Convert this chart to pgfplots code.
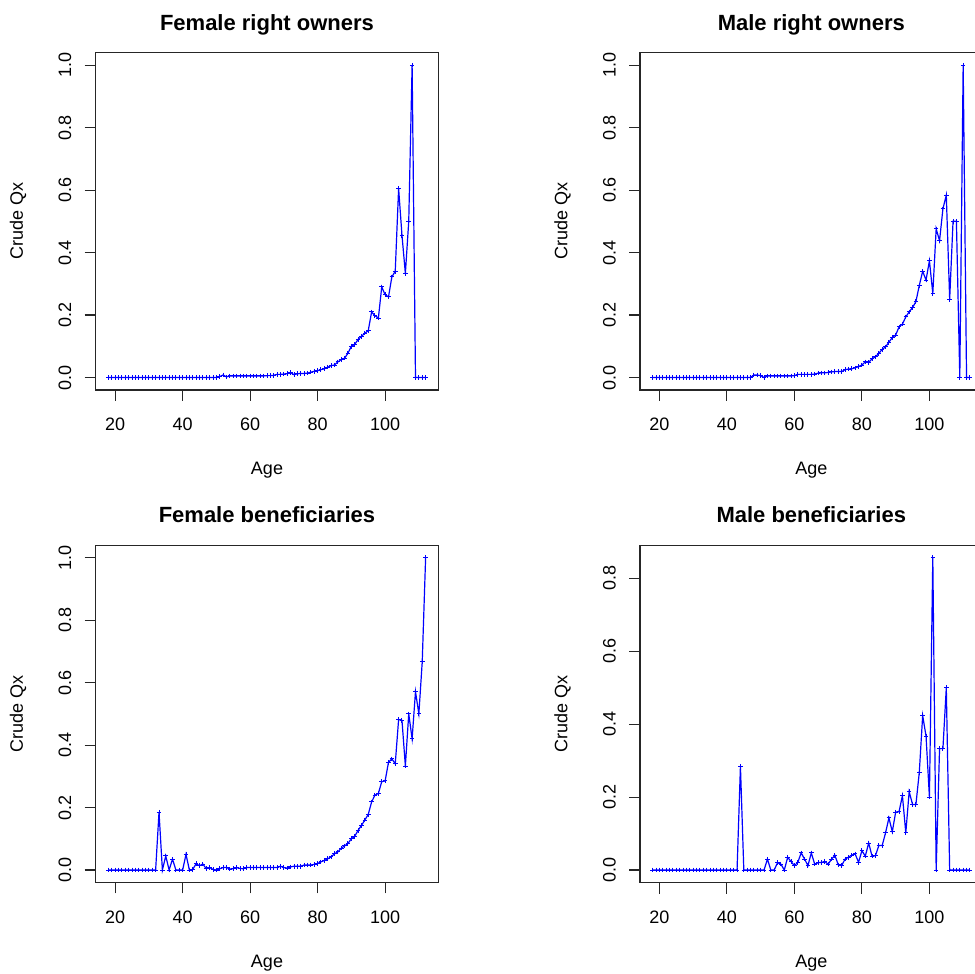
\documentclass[border=0pt]{standalone}
\usepackage{fontspec}
\setmainfont{Liberation Sans}
\usepackage{pgfplots}
\usepackage{pgfplotstable}
\pgfplotsset{compat=1.18}

% Crude death probabilities by age (one value per year of age)
\pgfplotstableread{
age q
18 0
19 0
20 0
21 0
22 0
23 0
24 0
25 0
26 0
27 0
28 0
29 0
30 0
31 0
32 0
33 0
34 0
35 0
36 0
37 0
38 0
39 0
40 0
41 0
42 0
43 0
44 0
45 0
46 0
47 0
48 0
49 0
50 0
51 0.003
52 0.008
53 0.002
54 0.005
55 0.005
56 0.005
57 0.005
58 0.005
59 0.005
60 0.005
61 0.005
62 0.005
63 0.005
64 0.005
65 0.006
66 0.006
67 0.007
68 0.010
69 0.010
70 0.011
71 0.012
72 0.016
73 0.009
74 0.012
75 0.013
76 0.013
77 0.014
78 0.017
79 0.020
80 0.022
81 0.025
82 0.028
83 0.033
84 0.038
85 0.040
86 0.050
87 0.057
88 0.062
89 0.078
90 0.100
91 0.106
92 0.122
93 0.132
94 0.142
95 0.150
96 0.210
97 0.198
98 0.190
99 0.290
100 0.265
101 0.258
102 0.322
103 0.340
104 0.605
105 0.455
106 0.333
107 0.500
108 1.000
109 0
110 0
111 0
112 0
}\femaleowners

\pgfplotstableread{
age q
18 0
19 0
20 0
21 0
22 0
23 0
24 0
25 0
26 0
27 0
28 0
29 0
30 0
31 0
32 0
33 0
34 0
35 0
36 0
37 0
38 0
39 0
40 0
41 0
42 0
43 0
44 0
45 0
46 0
47 0
48 0.008
49 0.008
50 0.006
51 0
52 0.005
53 0.005
54 0.005
55 0.005
56 0.005
57 0.005
58 0.005
59 0.005
60 0.006
61 0.010
62 0.010
63 0.010
64 0.010
65 0.010
66 0.011
67 0.014
68 0.015
69 0.015
70 0.016
71 0.018
72 0.019
73 0.019
74 0.019
75 0.025
76 0.027
77 0.028
78 0.031
79 0.035
80 0.040
81 0.050
82 0.048
83 0.060
84 0.066
85 0.077
86 0.090
87 0.098
88 0.113
89 0.128
90 0.136
91 0.162
92 0.171
93 0.194
94 0.210
95 0.224
96 0.243
97 0.295
98 0.340
99 0.312
100 0.374
101 0.269
102 0.476
103 0.438
104 0.540
105 0.584
106 0.250
107 0.500
108 0.500
109 0
110 1.000
111 0
112 0
}\maleowners

\pgfplotstableread{
age q
18 0
19 0
20 0
21 0
22 0
23 0
24 0
25 0
26 0
27 0
28 0
29 0
30 0
31 0
32 0
33 0.185
34 0
35 0.045
36 0
37 0.035
38 0
39 0
40 0
41 0.050
42 0
43 0.002
44 0.020
45 0.014
46 0.019
47 0.004
48 0.008
49 0.002
50 0
51 0.004
52 0.008
53 0.008
54 0.003
55 0.004
56 0.008
57 0.005
58 0.004
59 0.008
60 0.008
61 0.008
62 0.008
63 0.008
64 0.008
65 0.008
66 0.008
67 0.008
68 0.008
69 0.012
70 0.008
71 0.006
72 0.010
73 0.012
74 0.012
75 0.012
76 0.016
77 0.016
78 0.016
79 0.018
80 0.021
81 0.026
82 0.031
83 0.036
84 0.042
85 0.052
86 0.058
87 0.070
88 0.077
89 0.085
90 0.100
91 0.108
92 0.127
93 0.143
94 0.160
95 0.178
96 0.218
97 0.240
98 0.245
99 0.283
100 0.285
101 0.345
102 0.356
103 0.340
104 0.482
105 0.479
106 0.333
107 0.500
108 0.420
109 0.571
110 0.500
111 0.667
112 1.000
}\femalebenef

\pgfplotstableread{
age q
18 0
19 0
20 0
21 0
22 0
23 0
24 0
25 0
26 0
27 0
28 0
29 0
30 0
31 0
32 0
33 0
34 0
35 0
36 0
37 0
38 0
39 0
40 0
41 0
42 0
43 0
44 0.285
45 0
46 0
47 0
48 0
49 0
50 0
51 0
52 0.030
53 0
54 0
55 0.020
56 0.016
57 0
58 0.035
59 0.023
60 0.012
61 0.021
62 0.047
63 0.030
64 0.012
65 0.047
66 0.016
67 0.020
68 0.021
69 0.023
70 0.016
71 0.030
72 0.040
73 0.014
74 0.012
75 0.030
76 0.035
77 0.041
78 0.044
79 0.021
80 0.053
81 0.038
82 0.074
83 0.038
84 0.039
85 0.067
86 0.067
87 0.102
88 0.143
89 0.105
90 0.159
91 0.160
92 0.204
93 0.102
94 0.215
95 0.180
96 0.180
97 0.268
98 0.424
99 0.367
100 0.200
101 0.857
102 0
103 0.333
104 0.333
105 0.500
106 0
107 0
108 0
109 0
110 0
111 0
112 0
}\malebenef

\pgfplotsset{
  rpanel/.style={
    scale only axis, width=342.6bp, height=337.3bp,
    xmin=14.24, xmax=115.76,
    xtick={20,40,60,80,100},
    xtick pos=bottom, ytick pos=left,
    tick align=outside, major tick length=11bp,
    axis line style={line width=1.1bp, black!85},
    every tick/.style={line width=1.1bp, black!85},
    font=\fontsize{18bp}{21bp}\selectfont,
    /pgf/number format/assume math mode=true,
    y tick label style={/pgf/number format/fixed,
      /pgf/number format/fixed zerofill,
      /pgf/number format/precision=1},
    xticklabel style={anchor=base, yshift=-29.7bp},
    yticklabel style={xshift=-13.5bp, rotate=90, anchor=base},
    xlabel=Age, ylabel=Crude Qx,
    xlabel style={at={([yshift=-85bp]axis description cs:0.5,0)}, anchor=base},
    ylabel style={at={([xshift=-72.7bp]axis description cs:0,0.5)}, anchor=base},
    % the default title style already lifts the title by 6pt
    title style={at={([yshift=16.7bp]axis description cs:0.5,1)}, anchor=base,
      font=\fontsize{22bp}{25bp}\selectfont\bfseries},
    clip=false,
  },
  qxline/.style={color=blue, line width=1.2bp, mark=+, mark size=2.3bp,
    mark options={color=blue, line width=1bp}},
}

\begin{document}
\begin{tikzpicture}
\begin{axis}[rpanel, at={(95.7bp,584bp)}, anchor=south west,
  ymin=-0.04, ymax=1.04, ytick={0,0.2,0.4,0.6,0.8,1.0},
  title={Female right owners}]
  \addplot[qxline] table[x=age, y=q] {\femaleowners};
\end{axis}
\begin{axis}[rpanel, at={(640bp,584bp)}, anchor=south west,
  ymin=-0.04, ymax=1.04, ytick={0,0.2,0.4,0.6,0.8,1.0},
  title={Male right owners}]
  \addplot[qxline] table[x=age, y=q] {\maleowners};
\end{axis}
\begin{axis}[rpanel, at={(95.7bp,91.5bp)}, anchor=south west,
  ymin=-0.04, ymax=1.04, ytick={0,0.2,0.4,0.6,0.8,1.0},
  title={Female beneficiaries}]
  \addplot[qxline] table[x=age, y=q] {\femalebenef};
\end{axis}
\begin{axis}[rpanel, at={(640bp,91.5bp)}, anchor=south west,
  ymin=-0.03428, ymax=0.89128, ytick={0,0.2,0.4,0.6,0.8},
  title={Male beneficiaries}]
  \addplot[qxline] table[x=age, y=q] {\malebenef};
\end{axis}
\pgfresetboundingbox
\path[use as bounding box] (0,0) rectangle (975bp,974bp);
\end{tikzpicture}
\end{document}
